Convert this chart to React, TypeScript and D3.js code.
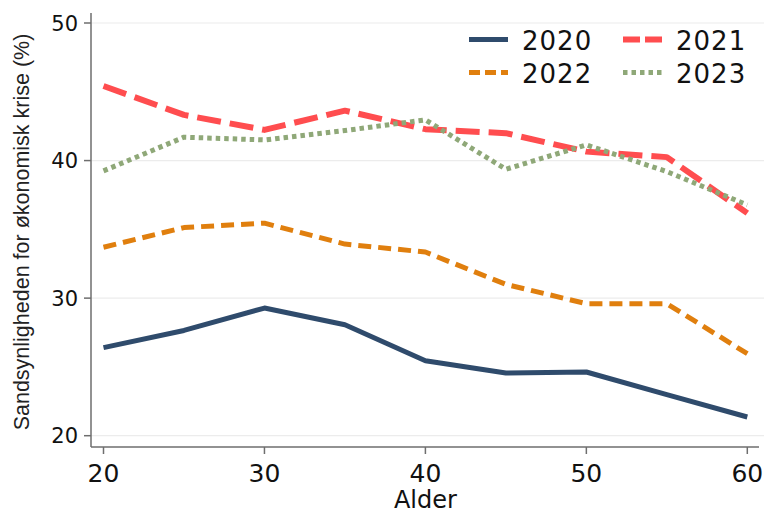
import { useEffect, useRef } from 'react';
import * as d3 from 'd3';

const AGES = [20, 25, 30, 35, 40, 45, 50, 55, 60];
const Y2020 = [26.4, 27.65, 29.28, 28.07, 25.45, 24.56, 24.63, 22.98, 21.36];
const Y2021 = [45.42, 43.32, 42.23, 43.63, 42.28, 41.99, 40.65, 40.25, 36.18];
const Y2022 = [33.7, 35.13, 35.45, 33.93, 33.35, 31.0, 29.6, 29.6, 25.96];
const Y2023 = [39.25, 41.7, 41.5, 42.18, 42.96, 39.37, 41.14, 39.2, 36.78];
const X_TICKS = [20, 30, 40, 50, 60];
const Y_TICKS = [20, 30, 40, 50];

const SERIES = [
  { name: '2020', values: Y2020, color: '#2f4b6c', width: 5, dash: null, legendDash: null },
  { name: '2021', values: Y2021, color: '#ff4d4f', width: 6, dash: '24,9', legendDash: '17,5' },
  { name: '2022', values: Y2022, color: '#e07f0e', width: 5, dash: '13,7', legendDash: '11,5' },
  { name: '2023', values: Y2023, color: '#8fa878', width: 5, dash: '4.5,4', legendDash: '4.5,4' },
];

const W = 779;
const H = 528;

export default function App() {
  const svgRef = useRef<SVGSVGElement>(null);

  useEffect(() => {
    const svgEl = svgRef.current;
    if (!svgEl) return;
    const svg = d3.select(svgEl);
    svg.selectAll('*').remove();

    const x = d3.scaleLinear().domain([20, 60]).range([103.5, 747.3]);
    const y = d3.scaleLinear().domain([20, 50]).range([435.7, 23]);
    const axisX = 91;
    const axisY = 447;
    const tickFont = 'DejaVu Sans, Verdana, sans-serif';

    // gridlines
    svg.append('g').selectAll('line').data(Y_TICKS).join('line')
      .attr('x1', axisX).attr('x2', 764)
      .attr('y1', (d) => y(d)).attr('y2', (d) => y(d))
      .attr('stroke', '#ececec').attr('stroke-width', 1.2);

    // y axis
    const gy = svg.append('g').attr('transform', `translate(${axisX},0)`);
    gy.append('line').attr('x1', 0).attr('x2', 0).attr('y1', 13).attr('y2', axisY)
      .attr('stroke', '#6e6e6e').attr('stroke-width', 1.5);
    gy.selectAll('line.tick').data(Y_TICKS).join('line').attr('class', 'tick')
      .attr('x1', -7).attr('x2', 0).attr('y1', (d) => y(d)).attr('y2', (d) => y(d))
      .attr('stroke', '#6e6e6e').attr('stroke-width', 1.5);
    gy.selectAll('text').data(Y_TICKS).join('text')
      .attr('x', -13).attr('y', (d) => y(d)).attr('dy', '0.36em')
      .attr('text-anchor', 'end').attr('font-family', tickFont).attr('font-size', 21)
      .attr('fill', '#111').text((d) => d);

    // x axis
    const gx = svg.append('g').attr('transform', `translate(0,${axisY})`);
    gx.append('line').attr('x1', axisX).attr('x2', 759).attr('y1', 0).attr('y2', 0)
      .attr('stroke', '#6e6e6e').attr('stroke-width', 1.5);
    gx.selectAll('line.tick').data(X_TICKS).join('line').attr('class', 'tick')
      .attr('x1', (d) => x(d)).attr('x2', (d) => x(d)).attr('y1', 0).attr('y2', 7)
      .attr('stroke', '#6e6e6e').attr('stroke-width', 1.5);
    gx.selectAll('text').data(X_TICKS).join('text')
      .attr('x', (d) => x(d)).attr('y', 35)
      .attr('text-anchor', 'middle').attr('font-family', tickFont).attr('font-size', 25)
      .attr('fill', '#111').text((d) => d);

    svg.append('text').attr('x', (x(20) + x(60)) / 2).attr('y', 508)
      .attr('text-anchor', 'middle').attr('font-family', tickFont).attr('font-size', 24)
      .attr('fill', '#111').text('Alder');

    svg.append('text')
      .attr('transform', `translate(29,${232}) rotate(-90)`)
      .attr('text-anchor', 'middle').attr('font-family', 'Liberation Sans, Arial, sans-serif')
      .attr('font-size', 21.5).attr('fill', '#222')
      .text('Sandsynligheden for økonomisk krise (%)');

    // lines
    const line = d3.line<number>().x((_, i) => x(AGES[i])).y((d) => y(d));
    SERIES.forEach((s) => {
      svg.append('path').datum(s.values)
        .attr('d', line)
        .attr('fill', 'none').attr('stroke', s.color).attr('stroke-width', s.width)
        .attr('stroke-linejoin', 'round')
        .attr('stroke-dasharray', s.dash);
    });

    // legend
    const legendPos = [
      { lx: 469, ly: 39.5 },
      { lx: 623, ly: 39.5 },
      { lx: 469, ly: 72.5 },
      { lx: 623, ly: 72.5 },
    ];
    SERIES.forEach((s, i) => {
      const p = legendPos[i];
      svg.append('line').attr('x1', p.lx).attr('x2', p.lx + 39).attr('y1', p.ly).attr('y2', p.ly)
        .attr('stroke', s.color).attr('stroke-width', s.width).attr('stroke-dasharray', s.legendDash);
      svg.append('text').attr('x', p.lx + 53).attr('y', p.ly + 10)
        .attr('font-family', tickFont).attr('font-size', 26).attr('fill', '#111')
        .attr('letter-spacing', 1)
        .text(s.name);
    });
  }, []);

  return (
    <svg ref={svgRef} width={W} height={H}
      style={{ position: 'absolute', left: 0, top: 0, background: '#fff' }} />
  );
}
